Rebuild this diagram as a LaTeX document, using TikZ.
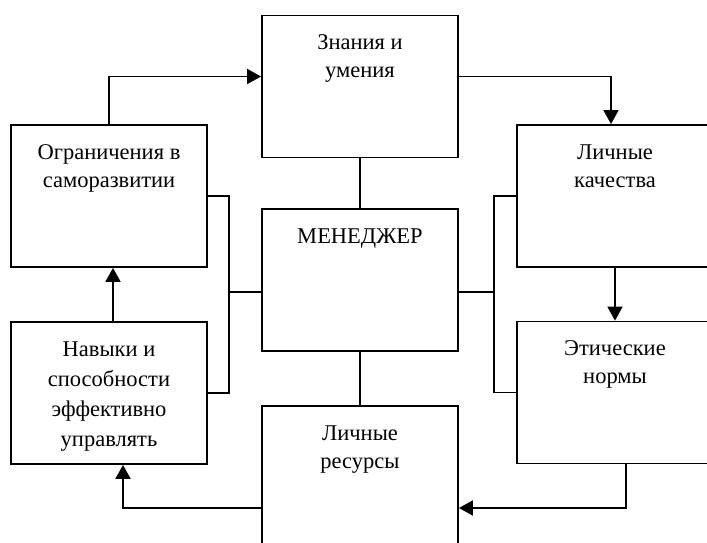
\documentclass[tikz,border=0pt]{standalone}
\usepackage{fontspec}
\setmainfont{Liberation Serif}
\usetikzlibrary{arrows.meta}
\begin{document}
\begin{tikzpicture}[x=1pt,y=-1pt,
  box/.style={draw,line width=1.8pt,minimum width=196pt,minimum height=142pt,inner sep=0pt},
  lbl/.style={anchor=north,inner sep=0pt,align=center,yshift=-20pt,
    font=\fontsize{22.5}{28}\selectfont},
  wire/.style={line width=1.8pt},
  arr/.style={line width=1.8pt,-{Triangle[length=14pt,width=15pt]}}]
\useasboundingbox (0,0) rectangle (707,543);
\clip (0,0) rectangle (707,543);
% boxes
\node[box,label={[lbl]north:{Знания и\\умения}}] (zn) at (360,86.5) {};
\node[box,label={[lbl]north:{МЕНЕДЖЕР}}] (mg) at (360,280) {};
\node[box,minimum height=160pt,label={[lbl]north:{Личные\\ресурсы}}] (res) at (360,486) {};
\node[box,label={[lbl]north:{Ограничения в\\саморазвитии}}] (ogr) at (109,196) {};
\node[box,label={[lbl,font=\fontsize{22.5}{30}\selectfont]north:{Навыки и\\способности\\эффективно\\управлять}}] (nav) at (109,393) {};
\node[box,label={[lbl]north:{Личные\\качества}}] (kach) at (615,196) {};
\node[box,label={[lbl]north:{Этические\\нормы}}] (eth) at (615,392.5) {};
% junction points on the manager box
\coordinate (ml) at ([yshift=-12pt]mg.west);
\coordinate (mr) at ([yshift=-12pt]mg.east);
% plain links
\draw[wire] (zn.south) -- (mg.north);
\draw[wire] (mg.south) -- (res.north);
\draw[wire] (ogr.east) -- ++(21,0) coordinate (lb) |- (nav.east);
\draw[wire] (ml) -- (lb |- ml);
\draw[wire] (kach.west) -- ++(-22,0) coordinate (rb) |- (eth.west);
\draw[wire] (mr) -- (rb |- mr);
% arrows
\draw[arr] (ogr.north) |- ([yshift=10pt]zn.west);
\draw[arr] ([yshift=10pt]zn.east) -| ([xshift=-4pt]kach.north);
\draw[arr] (kach.south) -- (eth.north);
\draw[arr] ([xshift=4pt]nav.north) -- ([xshift=4pt]ogr.south);
\draw[arr] ([xshift=11pt]eth.south) |- ([yshift=-22pt]res.east);
\draw[arr] ([yshift=-22pt]res.west) -| ([xshift=14pt]nav.south);
\end{tikzpicture}
\end{document}
